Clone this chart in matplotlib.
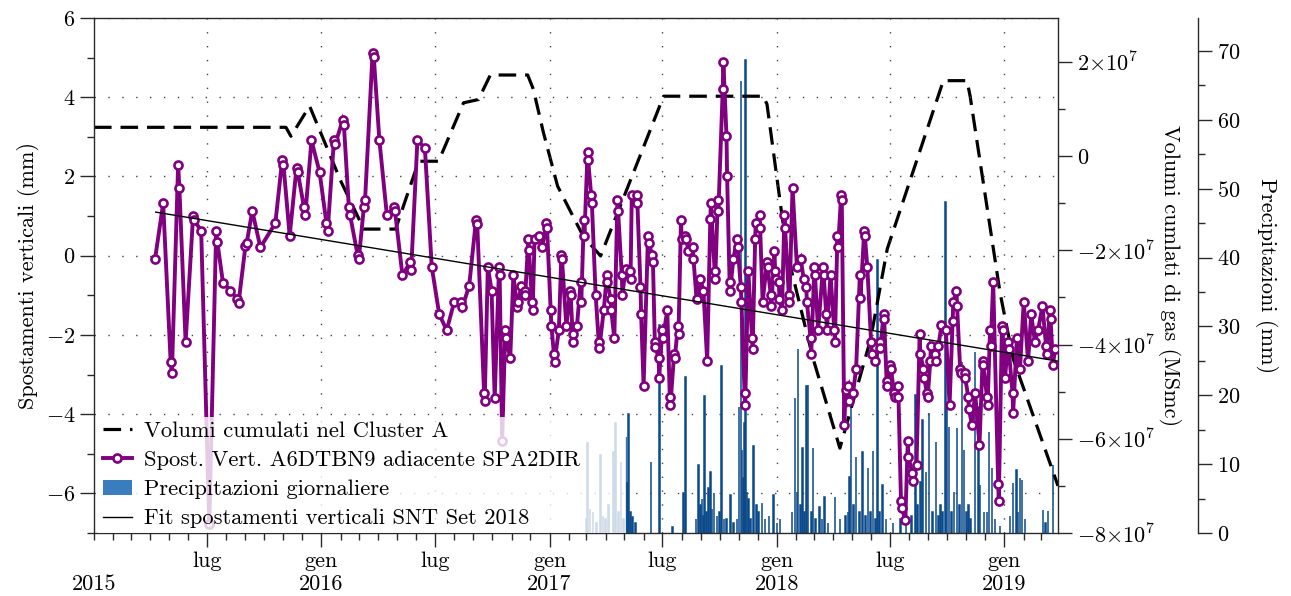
import numpy as np
import matplotlib
matplotlib.use("Agg")
import matplotlib.pyplot as plt
import matplotlib.dates as mdates
import matplotlib.ticker as mticker
from matplotlib.lines import Line2D
from matplotlib.patches import Patch

plt.rcParams.update({
    'font.family': 'serif',
    'font.serif': ['cmr10'],
    'mathtext.fontset': 'cm',
    'axes.unicode_minus': False,
    'axes.formatter.use_mathtext': True,
    'font.size': 16,
})

BASE_DATE = np.datetime64('2015-01-01')

# ---------------- data ----------------
# Vertical displacement A6DTBN9 (days since 2015-01-01, mm)
disp_day = [98, 111, 123, 125, 135, 137, 147, 159, 161, 172, 185, 196, 198, 207, 219, 230, 232, 243, 245, 254,
            267, 291, 302, 304, 314, 325, 327, 337, 339, 349, 362, 373, 375, 385, 387, 399, 401, 409, 411, 423,
            425, 433, 435, 447, 449, 458, 470, 481, 483, 495, 507, 509, 519, 531, 542, 554, 566, 578, 589, 591,
            602, 613, 615, 626, 627, 632, 638, 643, 650, 651, 655, 660, 661, 668, 673, 679, 680, 686, 691, 692,
            697, 698, 703, 704, 707, 714, 719, 726, 727, 733, 734, 738, 739, 746, 750, 751, 758, 764, 765, 768,
            769, 775, 781, 782, 786, 787, 792, 793, 798, 799, 805, 810, 811, 818, 823, 824, 829, 830, 835, 840,
            841, 847, 848, 853, 860, 861, 863, 871, 872, 877, 878, 882, 889, 890, 896, 897, 900, 901, 906, 907,
            912, 913, 920, 924, 925, 931, 932, 937, 938, 942, 943, 949, 950, 954, 961, 962, 967, 973, 978, 984,
            989, 990, 996, 997, 1001, 1002, 1009, 1010, 1015, 1016, 1020, 1021, 1026, 1032, 1033, 1038, 1039, 1044, 1045, 1050,
            1056, 1057, 1061, 1062, 1068, 1069, 1073, 1080, 1081, 1086, 1087, 1092, 1093, 1094, 1099, 1100, 1104, 1108, 1109, 1115,
            1116, 1121, 1128, 1134, 1139, 1143, 1144, 1150, 1151, 1156, 1157, 1162, 1170, 1171, 1175, 1176, 1182, 1188, 1189, 1193,
            1194, 1199, 1200, 1204, 1206, 1210, 1211, 1218, 1223, 1229, 1230, 1236, 1237, 1241, 1247, 1248, 1254, 1261, 1262, 1267,
            1268, 1272, 1273, 1278, 1279, 1284, 1285, 1290, 1291, 1295, 1296, 1302, 1306, 1307, 1313, 1314, 1320, 1325, 1326, 1331,
            1332, 1337, 1338, 1342, 1343, 1350, 1351, 1355, 1360, 1367, 1373, 1378, 1379, 1384, 1385, 1390, 1391, 1397, 1398, 1403,
            1404, 1409, 1414, 1421, 1426, 1427, 1433, 1434, 1438, 1439, 1443, 1451, 1452, 1457, 1458, 1462, 1467, 1468, 1474, 1475,
            1481, 1486, 1492, 1499, 1504, 1510, 1515, 1522, 1528, 1529, 1534, 1535, 1539, 1542]
disp_mm = [-0.08, 1.32, -2.68, -2.97, 2.30, 1.71, -2.18, 1.00, 0.90, 0.62, -6.78, 0.62, 0.34, -0.69, -0.88, -1.10, -1.19, 0.24, 0.32, 1.13,
           0.21, 0.82, 2.41, 2.30, 0.50, 2.22, 2.11, 1.22, 1.02, 2.91, 2.11, 0.82, 0.63, 2.91, 2.81, 3.42, 3.31, 1.22, 1.02, 0.02,
           -0.08, 1.22, 1.41, 5.11, 5.01, 2.91, 1.02, 1.22, 1.13, -0.50, -0.17, -0.35, 2.91, 2.72, -0.28, -1.48, -1.88, -1.17, -1.17, -1.30,
           -0.77, 0.90, 0.80, -3.47, -3.67, -0.28, -0.88, -3.60, -0.28, -0.49, -4.67, -1.88, -2.08, -2.58, -0.49, -1.30, -1.17, -0.77, -0.88, -1.00,
           0.42, 0.15, -1.17, -1.38, 0.42, 0.50, 0.21, 0.82, 0.71, -1.38, -1.78, -2.47, -2.68, -1.88, 0.02, -0.08, -1.78, -0.88, -1.00, -1.97,
           -2.18, -1.78, -0.67, -1.17, 0.90, 0.50, 2.61, 2.41, 1.52, 1.32, -0.98, -2.18, -2.34, -1.38, -0.49, -0.67, -1.09, -1.38, -2.08, 1.41,
           1.13, -0.50, -0.98, -0.33, -0.38, -0.59, 1.52, 1.52, 1.32, -0.78, -1.48, -3.28, 0.50, 0.32, 0.02, -0.17, -2.19, -2.30, -2.58, -3.08,
           -1.88, -2.08, -1.38, -3.56, -3.77, -2.47, -2.58, -1.78, -1.97, 0.90, 0.42, 0.50, 0.42, 0.13, 0.21, -0.08, -1.10, -0.59, -0.88, -2.66,
           0.92, 1.32, -0.38, -0.59, 1.41, 1.13, 4.21, 4.90, 3.02, 2.01, -0.67, -0.88, -0.08, 0.42, 0.21, -0.78, -1.17, -3.47, -3.77, -0.38,
           -2.08, -2.36, 0.42, 0.82, 1.02, 0.71, -1.17, -0.17, -0.28, -0.98, -1.27, 0.13, -0.38, -0.59, -0.67, -1.09, -1.38, 1.02, 0.71, -0.98,
           -1.17, 1.72, -0.28, -0.08, -0.59, -0.78, -1.17, -2.09, -2.47, -0.28, -0.49, -1.88, -0.28, -0.49, -1.48, -1.88, -0.49, -1.88, -2.18, 0.50,
           0.21, 1.52, 1.41, -4.27, -3.39, -3.28, -3.67, -3.47, -2.86, -0.49, -1.07, 0.63, 0.50, -0.28, -2.18, -2.47, -2.66, -2.18, -2.34, -1.48,
           -1.59, -3.17, -3.28, -2.76, -2.86, -3.47, -3.56, -3.28, -3.56, -6.18, -6.36, -6.66, -4.67, -5.07, -5.49, -5.69, -5.28, -1.97, -2.47, -2.86,
           -3.08, -3.47, -3.56, -2.66, -2.28, -2.47, -2.66, -2.28, -1.76, -1.88, -3.77, -1.66, -1.17, -0.88, -1.27, -2.86, -2.97, -2.97, -3.08, -3.56,
           -3.87, -4.27, -3.47, -4.77, -2.66, -2.76, -3.56, -3.77, -1.88, -2.28, -0.67, -5.76, -6.18, -1.78, -1.88, -3.08, -2.18, -2.36, -3.47, -3.98,
           -2.08, -2.86, -1.17, -2.66, -1.48, -2.18, -1.88, -1.27, -2.28, -2.47, -1.38, -1.59, -2.76, -2.36]

# Linear fit of vertical displacement (end points)
fit_day = [99, 1550]
fit_mm = [1.10, -2.67]

# Cumulated gas volumes, Cluster A (days since 2015-01-01, Smc)
gas_day = [0, 308, 316, 346, 396, 433, 484, 521, 553, 593, 617, 636, 696, 705, 721, 744, 785, 813,
           914, 1074, 1080, 1112, 1154, 1197, 1246, 1273, 1363, 1401, 1406, 1454, 1475, 1547]
gas_vol = [6.1e6, 6.1e6, 4.2e6, 1.06e7, -5.3e6, -1.55e7, -1.55e7, -1.1e6, -1.1e6, 1.13e7, 1.2e7, 1.72e7, 1.72e7,
           1.42e7, 5.1e6, -6.4e6, -1.7e7, -2.12e7, 1.27e7, 1.27e7, 1.1e7, -2.04e7, -4.3e7, -6.2e7, -3.9e7,
           -1.97e7, 1.6e7, 1.6e7, 1.27e7, -2.9e7, -4.3e7, -7.0e7]

# Daily rainfall (days since 2015-01-01, mm)
rain_day = [790, 792, 796, 801, 806, 813, 817, 821, 826, 834, 837, 842, 846, 850, 854, 856, 858, 861, 864, 869,
            894, 907, 928, 946, 949, 966, 970, 973, 976, 978, 980, 983, 986, 989, 992, 995, 1000, 1004, 1007, 1011,
            1015, 1021, 1026, 1032, 1035, 1038, 1040, 1042, 1044, 1046, 1048, 1050, 1054, 1058, 1063, 1066, 1072, 1077, 1083, 1090,
            1096, 1101, 1120, 1125, 1128, 1130, 1134, 1137, 1140, 1143, 1146, 1151, 1154, 1158, 1164, 1168, 1172, 1178, 1189, 1197,
            1206, 1210, 1212, 1215, 1219, 1223, 1228, 1233, 1238, 1242, 1246, 1250, 1254, 1257, 1261, 1265, 1271, 1282, 1294, 1303,
            1312, 1318, 1322, 1326, 1330, 1335, 1340, 1346, 1351, 1355, 1358, 1362, 1366, 1369, 1372, 1376, 1380, 1385, 1389, 1393,
            1396, 1400, 1403, 1407, 1414, 1419, 1422, 1428, 1433, 1436, 1441, 1446, 1454, 1470, 1475, 1480, 1483, 1486, 1489, 1494,
            1523, 1527, 1531, 1539]
rain_mm = [2.0, 13.0, 3.5, 3.0, 1.5, 11.3, 2.5, 2.0, 4.0, 11.8, 16.0, 3.0, 10.3, 2.0, 14.0, 7.3, 17.3, 3.0, 2.3, 1.5,
           10.3, 30.2, 0.8, 5.8, 22.6, 2.0, 9.9, 4.0, 5.0, 2.5, 19.9, 3.0, 6.5, 8.9, 3.5, 5.8, 2.5, 3.0, 24.2, 2.0,
           2.0, 5.5, 1.5, 2.0, 18.3, 65.7, 12.0, 8.0, 16.0, 68.7, 6.0, 5.0, 2.0, 12.6, 4.0, 3.0, 4.4, 2.0, 2.5, 5.5,
           1.5, 2.0, 3.0, 19.6, 6.0, 26.7, 4.0, 12.4, 3.0, 21.3, 21.5, 3.0, 12.4, 2.0, 3.8, 2.0, 5.2, 1.5, 5.2, 2.0,
           2.5, 3.0, 8.1, 18.9, 4.0, 11.0, 3.0, 11.8, 2.5, 9.4, 3.0, 11.9, 2.0, 39.6, 3.0, 7.0, 2.0, 1.5, 2.0, 3.0,
           2.5, 20.0, 4.0, 7.4, 16.4, 8.9, 17.4, 3.0, 13.2, 2.5, 4.0, 3.0, 48.1, 18.6, 15.4, 3.0, 6.0, 15.2, 4.0, 24.8,
           12.0, 3.0, 4.0, 2.0, 26.3, 18.3, 7.0, 3.0, 3.0, 14.7, 9.4, 2.0, 1.0, 2.5, 7.2, 9.1, 3.0, 8.0, 7.7, 2.0,
           3.3, 1.5, 3.2, 9.9]

x_major_dates = ['2015-07-01', '2016-01-01', '2016-07-01', '2017-01-01', '2017-07-01',
                 '2018-01-01', '2018-07-01', '2019-01-01']
month_names = {1: 'gen', 7: 'lug'}
first_year_label = '2015'
x_range = ['2015-01-01', '2019-03-28']

labels = ['Volumi cumulati nel Cluster A',
          'Spost. Vert. A6DTBN9 adiacente SPA2DIR',
          'Precipitazioni giornaliere',
          'Fit spostamenti verticali SNT Set 2018']

PURPLE = '#800080'
RAIN_FACE = '#3a7dbf'
RAIN_EDGE = '#0b4a8a'
SPINE = '#2a2a2a'


def to_dates(days):
    return BASE_DATE + np.array(days, dtype='timedelta64[D]')


# ---------------- figure ----------------
W, H = 1291, 596
fig = plt.figure(figsize=(W / 100, H / 100), dpi=100)
L, R, B, T = 94, 1058, 533, 18
ax = fig.add_axes([L / W, (H - B) / H, (R - L) / W, (B - T) / H])
ax2 = ax.twinx()
ax3 = ax.twinx()

ax.set_zorder(3)
ax.patch.set_visible(False)
ax2.set_zorder(2)
ax3.set_zorder(1)

# precipitation
ax3.bar(to_dates(rain_day), rain_mm, width=1.0, color=RAIN_FACE, edgecolor=RAIN_EDGE, linewidth=1.1)
ax3.set_ylim(0, 74.8)

# gas volumes
ax2.plot(to_dates(gas_day), gas_vol, color='black', lw=2.3, dashes=(5.5, 2.8))
ax2.set_ylim(-8e7, 2.93e7)

# displacement
ax.plot(to_dates(disp_day), disp_mm, color=PURPLE, lw=2.8, marker='o', ms=5.8, mfc='white',
        mec=PURPLE, mew=1.9, solid_joinstyle='miter', zorder=3)
ax.plot(to_dates(fit_day), fit_mm, color='black', lw=1.0, zorder=4)
ax.set_ylim(-7, 6)

x0 = np.datetime64(x_range[0])
x1 = np.datetime64(x_range[1])
ax.set_xlim(x0, x1)

# ---------------- axes styling ----------------
maj_len, min_len = 10, 5
major_nums = [mdates.date2num(np.datetime64(d)) for d in x_major_dates]
ax.xaxis.set_major_locator(mticker.FixedLocator(major_nums))
ax.xaxis.set_minor_locator(mdates.MonthLocator())


def xfmt(v, pos):
    d = mdates.num2date(v)
    if d.month == 1:
        return '%s\n%d' % (month_names[1], d.year)
    return month_names.get(d.month, '')


ax.xaxis.set_major_formatter(mticker.FuncFormatter(xfmt))
ax.annotate('\n' + first_year_label, xy=(0, 0), xycoords='axes fraction',
            xytext=(0, -(maj_len + 3.5)), textcoords='offset points',
            ha='center', va='top', annotation_clip=False)

ax.yaxis.set_major_locator(mticker.MultipleLocator(2))
ax.yaxis.set_minor_locator(mticker.MultipleLocator(1))
ax.yaxis.set_major_formatter(mticker.FuncFormatter(lambda v, p: r'$%d$' % round(v)))

ax2.yaxis.set_major_locator(mticker.MultipleLocator(2e7))
ax2.yaxis.set_minor_locator(mticker.MultipleLocator(1e7))


def gfmt(v, p):
    c = int(round(v / 1e7))
    if c == 0:
        return r'$0$'
    return r'$%d{\times}10^{7}$' % c


ax2.yaxis.set_major_formatter(mticker.FuncFormatter(gfmt))

ax3.yaxis.set_major_locator(mticker.MultipleLocator(10))
ax3.yaxis.set_minor_locator(mticker.MultipleLocator(5))
ax3.yaxis.set_major_formatter(mticker.FuncFormatter(lambda v, p: r'$%d$' % round(v)))
ax3.spines['right'].set_position(('axes', (1198 - L) / (R - L)))

for a in (ax, ax2, ax3):
    a.tick_params(which='major', direction='out', length=maj_len, width=1.0, color=SPINE, pad=3.5)
    a.tick_params(which='minor', direction='out', length=min_len, width=1.0, color=SPINE)
    for s in a.spines.values():
        s.set_color(SPINE)
        s.set_linewidth(1.0)

ax.spines['right'].set_visible(False)
for s in ('top', 'left', 'bottom'):
    ax2.spines[s].set_visible(False)
    ax3.spines[s].set_visible(False)

ax.grid(True, which='major', linestyle=(0, (1, 9)), color='#444444', linewidth=1.0)

ax.set_ylabel('Spostamenti verticali (mm)', labelpad=4)
ax2.set_ylabel('Volumi cumlati di gas (MSmc)', rotation=270, va='bottom', labelpad=2)
ax3.set_ylabel('Precipitazioni (mm)', rotation=270, va='bottom', labelpad=11)

handles = [Line2D([], [], color='black', lw=2.3, dashes=(5.5, 2.8)),
           Line2D([], [], color=PURPLE, lw=2.8, marker='o', ms=5.8, mfc='white', mec=PURPLE, mew=1.9),
           Patch(facecolor=RAIN_FACE, edgecolor='none'),
           Line2D([], [], color='black', lw=1.0)]
leg = ax.legend(handles, labels, loc='lower left', mode='expand',
                bbox_to_anchor=(4 / (R - L), 0, (626 - L - 4) / (R - L), 0.3),
                frameon=True, framealpha=0.8, edgecolor='none',
                fancybox=False, handlelength=1.3, handletextpad=0.55, labelspacing=0.42,
                borderaxespad=0.0, borderpad=0.2, fontsize=16.2)

fig.savefig('out.png', dpi=100)
